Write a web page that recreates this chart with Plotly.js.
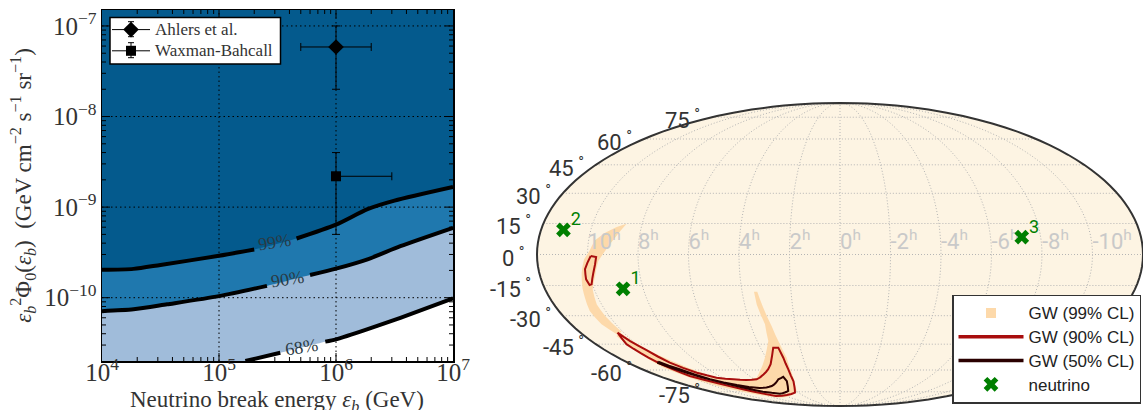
<!DOCTYPE html>
<html><head><meta charset="utf-8">
<script src="https://cdn.plot.ly/plotly-3.0.1.min.js"></script>
<style>html,body{margin:0;padding:0;background:#fff}</style>
</head><body><div id="chart" style="width:1143px;height:410px"></div>
<script>
// ---------- left panel data ----------
const curve99E = [1e4,1.86e4,3.16e4,1e5,2e5,4.6e5,1e6,1.86e6,3.16e6,1e7];
const curve99F = [2.03e-10,2.08e-10,2.3e-10,2.9e-10,3.4e-10,4.5e-10,6.4e-10,9.5e-10,1.18e-9,1.67e-9];
const curve90E = [1e4,1.86e4,3.6e4,1e5,2.57e5,6e5,1e6,1.86e6,3.55e6,1e7];
const curve90F = [7.1e-11,7.45e-11,8.45e-11,1.04e-10,1.35e-10,1.78e-10,2.09e-10,2.65e-10,3.7e-10,5.9e-10];
const curve68E = [1.68e5,3.34e5,8.1e5,1e6,1.84e6,3.55e6,1e7];
const curve68F = [2e-11,2.47e-11,3.27e-11,3.47e-11,4.47e-11,6e-11,9.8e-11];
const gap99 = [2e5,4.6e5], gap90 = [2.57e5,6e5], gap68 = [3.34e5,8.1e5];
const contourLabels = ['99%','90%','68%'];
const contourLabelE = [3e5,3.87e5,5.1e5];
const contourLabelF = [4.17e-10,1.6e-10,2.86e-11];
const gridE = [1e5,1e6];
const gridF = [1e-10,1e-9,1e-8,1e-7];
const ahlersE=[1e6], ahlersF=[5.86e-8], ahlersFUp=[4.14e-8], ahlersFDown=[3.86e-8], ahlersEUp=[1e6], ahlersEDown=[5e5];
const wbE=[1e6], wbF=[2.19e-9], wbFUp=[1.81e-9], wbFDown=[1.69e-9], wbEUp=[2e6], wbEDown=[0];
const minorMultipliers=[2,3,4,5,6,7,8,9];
const xDecades=[1e4,1e5,1e6];
const yDecades=[1e-11,1e-10,1e-9,1e-8,1e-7];

// ---------- right panel data (lon shown increasing to the right, lat in degrees) ----------
const gw99Lon = [-129.5,-134.5,-139.6,-143.7,-147,-151,-153,-152.7,-150.8,-156,-159.6,-160.2,-158.1,-156.9,-154.6,-152.1,-148.9,-146.2,-141,-134.9,-129.5,null,
 -52.7,-50.7,-48.7,-46.1,-44.3,-43.3,-47.5,-59.2,-83.7,-115.4,-136,-152,-157.8,-156.7,-157.4,-152.5,-147.2,-138,-125.9,-85.1,-74.4,-60.9,-51.9,-50.2,-52.4,-52.7];
const gw99Lat = [14.9,8.1,1.7,-3.1,-10.4,-16.9,-24.3,-30.2,-38.3,-39.65,-34.4,-27.6,-21,-16.4,-8.8,-2.3,1.7,6.85,10.5,13.3,14.9,null,
 -18,-18,-26,-35.3,-45,-52.6,-64.9,-74.3,-78.4,-79.9,-74.9,-66.3,-58.5,-48.7,-40.5,-38.8,-47.8,-56.5,-64.9,-64.9,-60.6,-52.6,-43.3,-34.4,-24.3,-18];
const gw99KeyLon = [-62], gw99KeyLat = [-63];
const gw90Lon = [-148.1,-144.9,-145.8,-147.6,-150.5,-151.9,-152.9,-152.2,-150.3,-148.1,null,
 -154.3,-151.9,-148.2,-144.3,-136,-125.9,-111.7,-87.3,-74.4,-65.3,-59.8,-50.3,-46.5,-46,-47.1,-50.4,-65.2,-84.5,-106,-115.3,-125.9,-137.4,-149.3,-154.3,-157.4,-154.3];
const gw90Lat = [-0.7,-1.2,-4.7,-8.8,-14.4,-14.8,-12,-7.1,-4,-0.7,null,
 -38.8,-43.3,-48.3,-55.5,-61.7,-64.9,-66,-66,-62.8,-59.5,-56.5,-46.9,-46.9,-52.6,-59.5,-67.3,-75.7,-77.6,-78.4,-76.5,-73,-68.7,-63.8,-55,-45,-38.8];
const gw50Lon = [-152.9,-145.8,-136.2,-120.8,-101.3,-81.7,-64.6,-57.2,-57.6,-70.6,-90.2,-107.9,-120.6,-133.2,-145.5,-155,-152.9];
const gw50Lat = [-55,-59.5,-66,-70,-72.2,-70.7,-66,-64.4,-67.3,-74.3,-76.5,-74.9,-71.8,-67.3,-61.7,-55.8,-55];
const nuLon = [-132.3,-166.5,108.7];
const nuLat = [-16.6,11.9,8.4];
const nuText = ['1','2','3'];
const hourLon = [-150,-120,-90,-60,-30,0,30,60,90,120,150];
const hourText = ['10','8','6','4','2','0','-2','-4','-6','-8','-10'];
const latTicks = [75,60,45,30,15,0,-15,-30,-45,-60,-75];

const W=1143,H=410;
const px=x=>x/W, py=y=>1-y/H;
const serif='"Liberation Serif","Times New Roman",serif';
const sans='"Liberation Sans",Arial,sans-serif';
const rob='Roboto,Arial,sans-serif';
const smooth={shape:'spline',smoothing:0.7};
const eMin=1e4,eMax=1e7,fMin=2e-11,fMax=1.5e-7;

function withGap(x,y,g){const X=[],Y=[];x.forEach((v,i)=>{X.push(v);Y.push(y[i]);if(v===g[0]){X.push(null);Y.push(null);}});return [X,Y];}
function fillTrace(x,y,c){return {type:'scatter',x:x,y:y,mode:'lines',line:{width:0,...smooth},fill:'tozeroy',fillcolor:c,showlegend:false,hoverinfo:'skip'};}
function lineTrace(x,y,g){const p=withGap(x,y,g);return {type:'scatter',x:p[0],y:p[1],mode:'lines',line:{color:'#000',width:4,...smooth},showlegend:false,hoverinfo:'skip',connectgaps:false};}

const gridDash='1.5px,3px';
const gridTraces=[];
gridE.forEach(e=>gridTraces.push({type:'scatter',x:[e,e],y:[fMin,fMax],mode:'lines',line:{color:'#000',width:1,dash:gridDash},showlegend:false,hoverinfo:'skip'}));
gridF.forEach(f=>gridTraces.push({type:'scatter',x:[eMin,eMax],y:[f,f],mode:'lines',line:{color:'#000',width:1,dash:gridDash},showlegend:false,hoverinfo:'skip'}));

// inward tick marks on all four sides; lengths as fractions of a decade (117 px in x, 90.5 px in y)
const minorOf=ds=>ds.flatMap(d=>minorMultipliers.map(m=>d*m));
const tickX=[],tickY=[];
function addXTicks(vals,len){const k=Math.pow(10,len/90.5);vals.filter(v=>v>eMin&&v<eMax).forEach(v=>{tickX.push(v,v,null,v,v,null);tickY.push(fMin,fMin*k,null,fMax,fMax/k,null);});}
function addYTicks(vals,len){const k=Math.pow(10,len/117);vals.filter(v=>v>fMin&&v<fMax).forEach(v=>{tickX.push(eMin,eMin*k,null,eMax,eMax/k,null);tickY.push(v,v,null,v,v,null);});}
addXTicks(gridE,8);addXTicks(minorOf(xDecades),4);addYTicks(gridF,8);addYTicks(minorOf(yDecades),4);
const tickTrace={type:'scatter',x:tickX,y:tickY,mode:'lines',line:{color:'#000',width:1},showlegend:false,hoverinfo:'skip',connectgaps:false};

function errTrace(name,x,y,sym,size,eU,eD,fU,fD){return {type:'scatter',name:'<span style="font-size:17px">'+name+'</span>',x:x,y:y,mode:'lines+markers',
 marker:{symbol:sym,size:size,color:'#000'},line:{color:'#000',width:1},
 error_x:{type:'data',symmetric:false,array:eU,arrayminus:eD,color:'#000',thickness:1,width:4},
 error_y:{type:'data',symmetric:false,array:fU,arrayminus:fD,color:'#000',thickness:1,width:4},hoverinfo:'skip'};}

const leftTraces=[
 fillTrace(curve99E,curve99F,'#1f78ae'),
 fillTrace(curve90E,curve90F,'#a0bcda'),
 fillTrace(curve68E,curve68F,'#ffffff'),
 ...gridTraces,
 tickTrace,
 lineTrace(curve99E,curve99F,gap99),
 lineTrace(curve90E,curve90F,gap90),
 lineTrace(curve68E,curve68F,gap68),
 errTrace('Ahlers et al.',ahlersE,ahlersF,'diamond',12,ahlersEUp,ahlersEDown,ahlersFUp,ahlersFDown),
 errTrace('Waxman-Bahcall',wbE,wbF,'square',10,wbEUp,wbEDown,wbFUp,wbFDown)
];

const geoBase={type:'scattergeo',geo:'geo',hoverinfo:'skip'};
const legendName=t=>'<span style="font-size:17px">'+t+'</span>';
const rightTraces=[
 {...geoBase,lon:gw99Lon,lat:gw99Lat,mode:'lines',fill:'toself',fillcolor:'#fdd9aa',line:{width:0,color:'#fdd9aa'},showlegend:false},
 {...geoBase,lon:gw99KeyLon,lat:gw99KeyLat,name:legendName('GW (99% CL)'),mode:'markers',marker:{symbol:'square',size:10,color:'#fdd9aa'},legend:'legend2'},
 {...geoBase,lon:gw90Lon,lat:gw90Lat,mode:'lines',line:{color:'#a80d0d',width:2},showlegend:false},
 {...geoBase,lon:gw50Lon,lat:gw50Lat,mode:'lines',line:{color:'#2a0000',width:2},showlegend:false},
 {...geoBase,lon:hourLon,lat:hourLon.map(()=>0),mode:'text',text:hourText.map(t=>t+'<sup>h</sup>'),textposition:'top right',textfont:{family:rob,size:22,color:'#c9c9c9'},showlegend:false},
 {...geoBase,lon:[gw90Lon[0]],lat:[gw90Lat[0]],name:legendName('GW (90% CL)'),mode:'lines',line:{color:'#a80d0d',width:3.5},legend:'legend2'},
 {...geoBase,lon:[gw50Lon[0]],lat:[gw50Lat[0]],name:legendName('GW (50% CL)'),mode:'lines',line:{color:'#2a0000',width:3.5},legend:'legend2'},
 {...geoBase,lon:nuLon,lat:nuLat,name:legendName('neutrino'),mode:'markers',marker:{symbol:'x',size:13,color:'#007f00',line:{width:0}},legend:'legend2'},
 {...geoBase,lon:nuLon,lat:nuLat,mode:'text',text:nuText.map(t=>'\u2009\u2009'+t),textposition:'top right',textfont:{family:rob,size:18,color:'#007f00'},showlegend:false}
];

const axisCommon={type:'log',showgrid:false,zeroline:false,showline:true,linecolor:'#000',linewidth:1.5,mirror:true,
 ticks:'',layer:'above traces',dtick:1,
 tickfont:{family:serif,size:20,color:'#333'},exponentformat:'power'};

// Mollweide position of a latitude on the left edge of the frame, in page pixels
const cx=840,cy=254.5,rx=303,ry=151.5;
function frameAnchor(lat){const phi=lat*Math.PI/180;let t=phi;for(let i=0;i<40;i++){t-=(2*t+Math.sin(2*t)-Math.PI*Math.sin(phi))/(2+2*Math.cos(2*t));}
 return {x:cx-rx*Math.cos(t),y:cy-ry*Math.sin(t)};}

const shapes=[
 {type:'circle',xref:'paper',yref:'paper',x0:px(537),x1:px(1143),y0:py(406),y1:py(103),fillcolor:'#fdf4e3',line:{width:0},layer:'below'},
 {type:'rect',xref:'paper',yref:'paper',x0:px(110),x1:px(280.5),y0:py(64),y1:py(17.5),fillcolor:'#fff',line:{color:'#000',width:1.5}}
];
[[29,21.7,36.7],[50,42.7,57.7]].forEach(r=>{
 const ln=(x0,y0,x1,y1)=>shapes.push({type:'line',xref:'paper',yref:'paper',x0:px(x0),x1:px(x1),y0:py(y0),y1:py(y1),line:{color:'#000',width:1}});
 ln(131,r[1],131,r[2]); ln(128,r[1],134,r[1]); ln(128,r[2],134,r[2]);
});

const annotations=contourLabels.map((t,i)=>({text:t,xref:'x',yref:'y',x:Math.log10(contourLabelE[i]),y:Math.log10(contourLabelF[i]),showarrow:false,textangle:-9,font:{family:serif,size:18,color:'#2b3a44'}}));
latTicks.forEach(l=>{const a=frameAnchor(l);annotations.push({text:l+'\u2009<sup>\u00b0</sup>',xref:'paper',yref:'paper',x:px(a.x-10),y:py(a.y+2),xanchor:'right',yanchor:'middle',showarrow:false,font:{family:rob,size:22,color:'#333'}});});
annotations.push({text:'Neutrino break energy <i>\u03b5<sub>b</sub></i> (GeV)',xref:'paper',yref:'paper',x:px(277),y:py(401),xanchor:'center',yanchor:'middle',showarrow:false,font:{family:serif,size:23,color:'#333'}});

const layout={
 width:W,height:H,margin:{l:0,r:0,t:0,b:0},paper_bgcolor:'#fff',plot_bgcolor:'#045a8d',showlegend:true,hovermode:false,
 xaxis:{...axisCommon,domain:[px(102),px(453)],range:[4,7],anchor:'y',ticklabelstandoff:-11},
 yaxis:{...axisCommon,domain:[py(361),py(10)],range:[Math.log10(fMin),Math.log10(fMax)],anchor:'x',
   title:{text:'<i>\u03b5<sub>b</sub></i><sup>2</sup>\u03a6<sub>0</sub>(<i>\u03b5<sub>b</sub></i>)\u00a0\u00a0(GeV cm<sup>\u22122</sup> s<sup>\u22121</sup> sr<sup>\u22121</sup>)',font:{family:serif,size:23,color:'#333'},standoff:6}},
 geo:{domain:{x:[px(537),1],y:[py(406),py(103)]},bgcolor:'rgba(0,0,0,0)',
   projection:{type:'mollweide'},showland:false,showocean:false,showlakes:false,showrivers:false,showcountries:false,showcoastlines:false,showsubunits:false,
   showframe:true,framecolor:'#333',framewidth:2,
   lonaxis:{showgrid:true,dtick:30,gridcolor:'#b4b4b4',gridwidth:1,griddash:'1px,2px',range:[-180,180]},
   lataxis:{showgrid:true,dtick:15,gridcolor:'#b4b4b4',gridwidth:1,griddash:'1px,2px',range:[-90,90]}},
 legend:{x:px(107),y:py(14),xanchor:'left',yanchor:'top',bgcolor:'rgba(0,0,0,0)',borderwidth:0,itemwidth:38,font:{family:serif,size:14,color:'#333'},tracegroupgap:0},
 legend2:{x:px(952),y:py(294.5),xanchor:'left',yanchor:'top',bgcolor:'#fff',bordercolor:'#333',borderwidth:1.5,itemwidth:65,font:{family:sans,size:16,color:'#222'},entrywidth:111,entrywidthmode:'pixels',tracegroupgap:0},
 shapes:shapes,annotations:annotations
};
Plotly.newPlot('chart',leftTraces.concat(rightTraces),layout,{displayModeBar:false,staticPlot:true});
</script></body></html>
